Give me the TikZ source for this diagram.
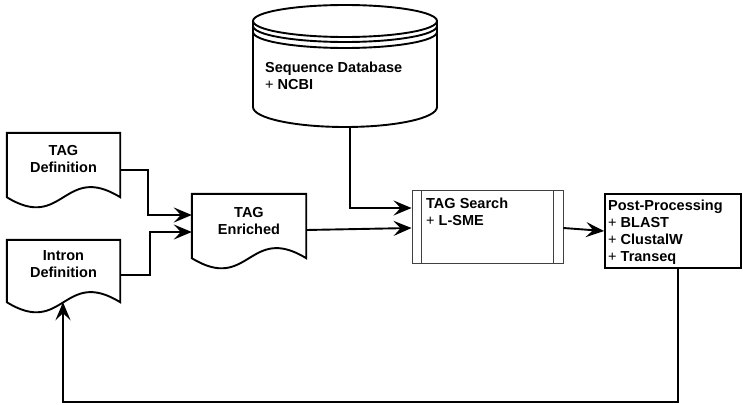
\documentclass[tikz,border=0pt]{standalone}
\usepackage{fontspec}
\setmainfont{Liberation Sans}
\usetikzlibrary{arrows.meta,calc}
\tikzset{
  txt/.style={font=\fontsize{14.5}{17}\selectfont\bfseries, inner sep=0pt, align=left},
  ctxt/.style={font=\fontsize{14.5}{17}\selectfont\bfseries, inner sep=0pt, align=center},
  outline/.style={line width=1.9pt, line join=miter},
  thinbox/.style={line width=0.9pt, draw=black!75},
  conn/.style={line width=1.9pt, -{Stealth[length=18pt,width=15pt,inset=7pt]}},
  shapebox/.style={inner sep=0pt, draw=none},
}
\newcommand\docoutline[1]{%
  \draw[outline] (#1.south west) -- (#1.north west) -- (#1.north east) -- (#1.south east)
    .. controls ([yshift=35pt]#1.south) and ([yshift=-35pt]#1.south) .. (#1.south west) -- cycle;}
\begin{document}
\begin{tikzpicture}[x=1pt,y=-1pt]
\useasboundingbox (0,0) rectangle (743,404);
% database cylinder
\node[shapebox, minimum width=184pt, minimum height=122pt] (db) at (345,66) {};
\draw[outline] (253,21) -- (253,107) arc[start angle=180,end angle=360,x radius=92pt,y radius=20pt] -- (437,21);
\draw[outline, fill=white] (345,21) ellipse[x radius=92pt, y radius=16pt];
\draw[outline] (253,26) arc[start angle=180,end angle=360,x radius=92pt,y radius=16pt];
\draw[outline] (253,32) arc[start angle=180,end angle=360,x radius=92pt,y radius=16pt];
\node[txt, anchor=base west] (dbtxt) at (265,89) {Sequence Database\\{\mdseries +} NCBI};
% documents
\node[shapebox, minimum width=113pt, minimum height=64pt] (tagdef) at (63.5,165) {};
\docoutline{tagdef}
\node[ctxt, anchor=base] (tagdeftxt) at (63.5,172) {TAG\\Definition};
\node[shapebox, minimum width=113pt, minimum height=62pt] (intron) at (63.5,271) {};
\docoutline{intron}
\node[ctxt, anchor=base] (introntxt) at (63.5,277) {Intron\\Definition};
\node[shapebox, minimum width=114pt, minimum height=64pt] (tagenr) at (249,226) {};
\docoutline{tagenr}
\node[ctxt, anchor=base] (tagenrtxt) at (249,234) {TAG\\Enriched};
% TAG search
\node[thinbox, inner sep=0pt, minimum width=151pt, minimum height=73pt] (search) at (487.5,226.5) {};
\draw[thinbox] (421,190) -- (421,263);
\draw[thinbox] (553,190) -- (553,263);
\node[txt, anchor=base west] (searchtxt) at (426,225) {TAG Search\\{\mdseries +} L-SME};
% post processing
\node[draw, line width=1.9pt, inner sep=0pt, minimum width=136pt, minimum height=74pt] (post) at (673,231) {};
\node[txt, anchor=base west] (posttxt) at (608,261) {Post-Processing\\{\mdseries +} BLAST\\{\mdseries +} ClustalW\\{\mdseries +} Transeq};
% connectors
\draw[conn] ([xshift=5pt]db.south) |- ([yshift=18.5pt]search.west);
\draw[conn] ([yshift=-5pt]tagdef.east) -- ++(28,0) |- ([yshift=11pt]tagenr.west);
\draw[conn] ([yshift=-4pt]intron.east) -- ++(30,0) |- ([yshift=-6pt]tagenr.west);
\draw[conn] ([yshift=-4pt]tagenr.east) -- ([yshift=-1.5pt]search.west);
\draw[conn] ([yshift=-1.5pt]search.east) -- (post.west);
\coordinate (loopR) at (678,402);
\coordinate (loopL) at (63,402);
\draw[conn] ([xshift=5pt]post.south) -- (loopR) -- (loopL) -- (intron.south -| loopL);
\end{tikzpicture}
\end{document}
